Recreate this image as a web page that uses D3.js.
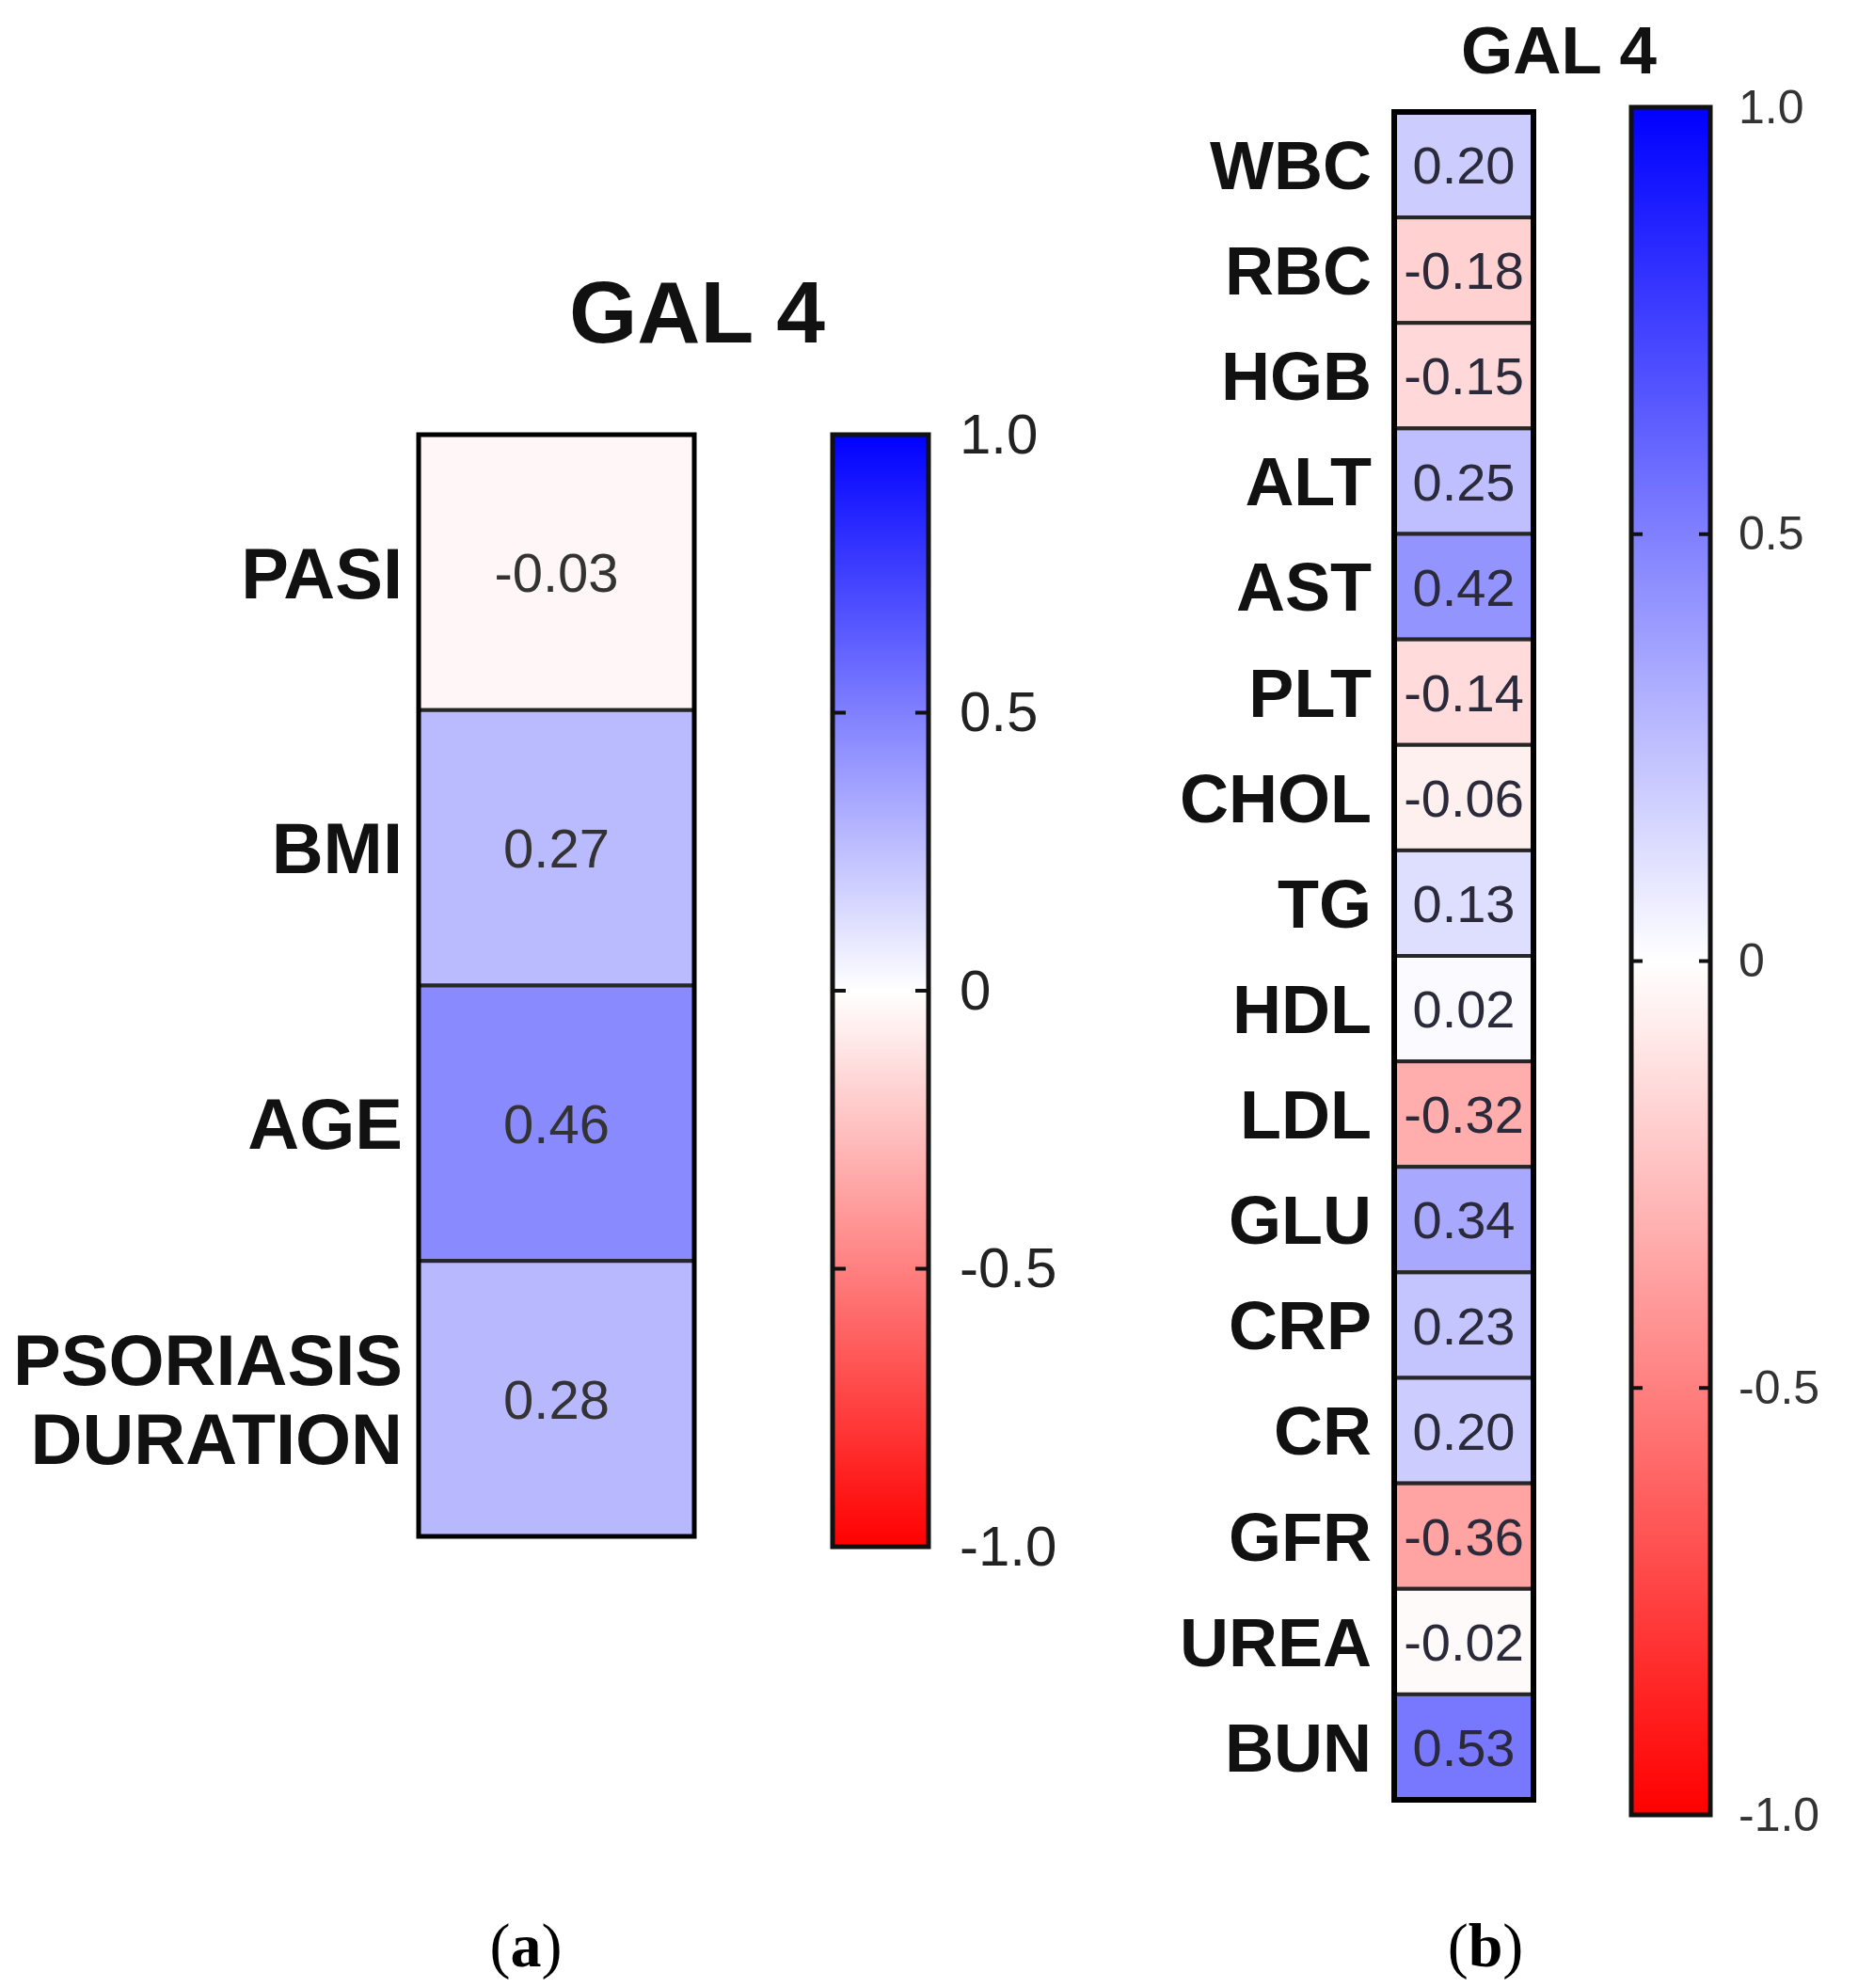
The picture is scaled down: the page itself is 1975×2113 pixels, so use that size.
<!DOCTYPE html>
<html>
<head>
<meta charset="utf-8">
<script src="https://cdn.jsdelivr.net/npm/d3@7"></script>
<style>
  body { margin: 0; background: #fff; }
  svg { display: block; }
</style>
</head>
<body>
<div id="graf"></div>
<script>
// datos
varsA = ['PASI', 'BMI', 'AGE', 'PSORIASIS DURATION']
valsA = [-0.03, 0.27, 0.46, 0.28]
textA = ['-0.03', '0.27', '0.46', '0.28']

varsB = ['WBC', 'RBC', 'HGB', 'ALT', 'AST', 'PLT', 'CHOL', 'TG', 'HDL', 'LDL', 'GLU', 'CRP', 'CR', 'GFR', 'UREA', 'BUN']
valsB = [0.20, -0.18, -0.15, 0.25, 0.42, -0.14, -0.06, 0.13, 0.02, -0.32, 0.34, 0.23, 0.20, -0.36, -0.02, 0.53]
textB = ['0.20', '-0.18', '-0.15', '0.25', '0.42', '-0.14', '-0.06', '0.13', '0.02', '-0.32', '0.34', '0.23', '0.20', '-0.36', '-0.02', '0.53']

ticksCb = [1.0, 0.5, 0, -0.5, -1.0]
tickLabels = ['1.0', '0.5', '0', '-0.5', '-1.0']

titulo = 'GAL 4'
panelLabels = ['a', 'b']

// configuración
ancho_total = 1975
alto_total = 2113

svg = d3.select('#graf').append('svg')
        .attr('width', ancho_total)
        .attr('height', alto_total)

color = d3.scaleLinear()
          .domain([-1, 0, 1])
          .range(['#ff0000', '#ffffff', '#0000ff'])

sans = "'Liberation Sans', Arial, sans-serif"
narrow = "'Liberation Sans Narrow', 'Arial Narrow', 'Liberation Sans', sans-serif"

// gradiente de la barra de color
grad = svg.append('defs').append('linearGradient')
          .attr('id', 'cbgrad')
          .attr('x1', 0).attr('y1', 1).attr('x2', 0).attr('y2', 0)
grad.selectAll('stop')
    .data(d3.range(-1, 1.001, 0.1))
    .enter().append('stop')
      .attr('offset', d => (d + 1) / 2)
      .attr('stop-color', d => color(d))

function heatmap(cfg) {
  g = svg.append('g')

  y = d3.scaleBand()
        .domain(cfg.vars)
        .range([cfg.top, cfg.bottom])

  data = cfg.vars.map((v, i) => ({ v: v, val: cfg.vals[i], txt: cfg.text[i] }))

  g.selectAll('rect.cell')
   .data(data)
   .enter().append('rect')
     .attr('class', 'cell')
     .attr('x', cfg.x)
     .attr('y', d => y(d.v))
     .attr('width', cfg.w)
     .attr('height', y.bandwidth())
     .attr('fill', d => color(d.val))
     .attr('stroke', '#262626')
     .attr('stroke-width', 4)

  g.append('rect')
   .attr('x', cfg.x).attr('y', cfg.top)
   .attr('width', cfg.w).attr('height', cfg.bottom - cfg.top)
   .attr('fill', 'none')
   .attr('stroke', '#000')
   .attr('stroke-width', cfg.border)

  g.selectAll('text.val')
   .data(data)
   .enter().append('text')
     .attr('class', 'val')
     .attr('x', cfg.x + cfg.w / 2)
     .attr('y', d => y(d.v) + y.bandwidth() / 2)
     .attr('dy', '0.36em')
     .attr('text-anchor', 'middle')
     .style('font-family', cfg.valFont)
     .style('font-size', cfg.valSize + 'px')
     .style('fill', cfg.valColor)
     .text(d => d.txt)

  lab = g.selectAll('text.lab')
   .data(data)
   .enter().append('text')
     .attr('class', 'lab')
     .attr('text-anchor', 'end')
     .style('font-family', sans)
     .style('font-weight', 'bold')
     .style('font-size', cfg.labSize + 'px')
     .style('fill', '#111')

  lab.each(function(d) {
    words = d.v.split(' ')
    yc = y(d.v) + y.bandwidth() / 2
    if (words.length > 1 && cfg.wrap) {
      words.forEach((w, k) => {
        d3.select(this).append('tspan')
          .attr('x', cfg.labX)
          .attr('y', yc + (k - 0.5) * cfg.labSize * 1.1)
          .attr('dy', '0.36em')
          .text(w)
      })
    } else {
      d3.select(this).append('tspan')
        .attr('x', cfg.labX)
        .attr('y', yc)
        .attr('dy', '0.36em')
        .text(d.v)
    }
  })

  // barra de color
  yc = d3.scaleLinear().domain([-1, 1]).range([cfg.cbBottom, cfg.cbTop])

  g.append('rect')
   .attr('x', cfg.cbX).attr('y', cfg.cbTop)
   .attr('width', cfg.cbW).attr('height', cfg.cbBottom - cfg.cbTop)
   .attr('fill', 'url(#cbgrad)')
   .attr('stroke', '#111')
   .attr('stroke-width', cfg.cbBorder)

  inner = ticksCb.filter(t => Math.abs(t) < 1)
  g.selectAll('line.tl')
   .data(inner).enter().append('line')
     .attr('x1', cfg.cbX).attr('x2', cfg.cbX + cfg.tick)
     .attr('y1', d => yc(d)).attr('y2', d => yc(d))
     .attr('stroke', '#111').attr('stroke-width', 4)
  g.selectAll('line.tr')
   .data(inner).enter().append('line')
     .attr('x1', cfg.cbX + cfg.cbW - cfg.tick).attr('x2', cfg.cbX + cfg.cbW)
     .attr('y1', d => yc(d)).attr('y2', d => yc(d))
     .attr('stroke', '#111').attr('stroke-width', 4)

  axisCall = d3.axisRight(yc)
               .tickValues(ticksCb)
               .tickSize(0)
               .tickPadding(0)
               .tickFormat((d, i) => tickLabels[i])
  ax = g.append('g')
        .attr('transform', `translate(${cfg.tickX}, 0)`)
        .call(axisCall)
  ax.select('.domain').remove()
  ax.selectAll('text')
    .style('font-family', sans)
    .style('font-size', cfg.tickSize + 'px')
    .style('fill', cfg.tickColor)

  // título
  g.append('text')
   .attr('x', cfg.titleX)
   .attr('y', cfg.titleY)
   .attr('text-anchor', 'middle')
   .style('font-family', sans)
   .style('font-weight', 'bold')
   .style('font-size', cfg.titleSize + 'px')
   .style('fill', '#111')
   .text(titulo)

  // etiqueta del panel
  pl = g.append('text')
        .attr('x', cfg.panelX)
        .attr('y', 2090)
        .attr('text-anchor', 'middle')
        .style('font-family', "'Liberation Serif', 'Times New Roman', serif")
        .style('font-size', '66px')
        .style('fill', '#000')
  pl.append('tspan').text('(')
  pl.append('tspan').style('font-weight', 'bold').text(cfg.panel)
  pl.append('tspan').text(')')
}

heatmap({
  vars: varsA, vals: valsA, text: textA,
  x: 445, w: 293, top: 462, bottom: 1633, border: 5,
  valFont: narrow, valSize: 58, valColor: '#333',
  labX: 428, labSize: 76, wrap: true,
  cbX: 885, cbW: 102, cbTop: 462, cbBottom: 1644, cbBorder: 5, tick: 14,
  tickX: 1020, tickSize: 60, tickColor: '#222',
  titleX: 741, titleY: 364, titleSize: 93,
  panelX: 559, panel: panelLabels[0]
})

heatmap({
  vars: varsB, vals: valsB, text: textB,
  x: 1482, w: 148, top: 119, bottom: 1913, border: 6,
  valFont: sans, valSize: 56, valColor: '#2a2a3a',
  labX: 1458, labSize: 72, wrap: false,
  cbX: 1734, cbW: 84, cbTop: 114, cbBottom: 1929, cbBorder: 5, tick: 12,
  tickX: 1848, tickSize: 50, tickColor: '#333',
  titleX: 1657, titleY: 78, titleSize: 71,
  panelX: 1579, panel: panelLabels[1]
})
</script>
</body>
</html>
